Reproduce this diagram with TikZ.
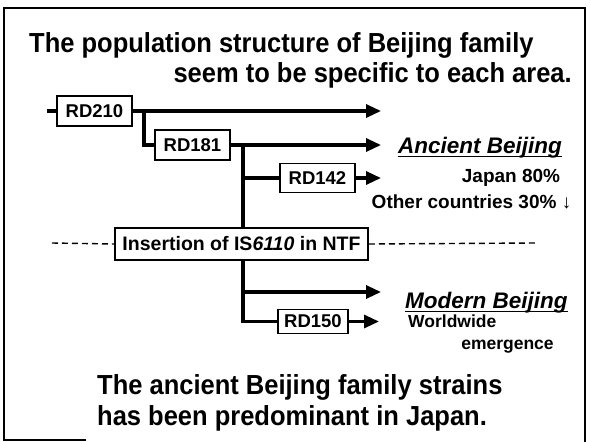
\documentclass[tikz,border=0pt]{standalone}
\usepackage{fontspec}
\setmainfont{Liberation Sans}
\usetikzlibrary{arrows.meta}
\tikzset{
  box/.style={draw, line width=1.8pt, fill=white, inner sep=0pt, minimum width=75pt, minimum height=30pt, font=\fontsize{18.5}{20}\selectfont\bfseries},
  branch/.style={line width=3.2pt},
  arr/.style={line width=3.2pt, -{Triangle[length=15pt,width=13pt]}},
  big/.style={font=\fontsize{25.5}{30}\selectfont\bfseries, inner sep=0pt},
  lbl/.style={font=\fontsize{19}{21}\selectfont\bfseries, inner sep=0pt},
  area/.style={font=\fontsize{22.5}{25}\selectfont\bfseries\itshape, inner sep=0pt},
  uline/.style={line width=1.6pt},
  frame/.style={line width=2pt},
}
\begin{document}
\begin{tikzpicture}[x=1pt,y=-1pt]
\useasboundingbox (0,0) rectangle (590,442);
% frame
\coordinate (f1) at (4,440);
\coordinate (f2) at (4,8);
\coordinate (f3) at (585,8);
\coordinate (f4) at (585,442);
\coordinate (f5) at (86,440);
\draw[frame] (f5) -- (f1) -- (f2) -- (f3) -- (f4);
% title
\node[big, anchor=base west] (t1) at (29,52) {\scalebox{1}[1.08]{The population structure of Beijing family}};
\node[big, anchor=base east] (t2) at (572,82) {\scalebox{1}[1.08]{seem to be specific to each area.}};
% boxes
\node[box] (rd210) at (94.5,111) {RD210};
\node[box] (rd181) at (192.5,145) {RD181};
\node[box, minimum height=29pt] (rd142) at (317.5,178) {RD142};
\node[box, minimum width=70pt, minimum height=24pt] (rd150) at (313,321.5) {RD150};
\coordinate (s0) at (47,111);
\coordinate (a1) at (381,111);
\coordinate (a2) at (381,145);
\coordinate (a3) at (381,178);
\coordinate (a4) at (381,292);
\coordinate (a5) at (379,321.5);
\coordinate (v1) at (144,111);
\coordinate (v1b) at (144,145);
\coordinate (v2) at (243,145);
\coordinate (v2a) at (243,178);
\coordinate (v2b) at (243,292);
\coordinate (v2c) at (243,321.5);
\draw[branch] (s0) -- (rd210.west);
\draw[arr] (rd210.east) -- (a1);
\draw[branch] (v1) -- (v1b) -- (rd181.west);
\draw[arr] (rd181.east) -- (a2);
\draw[branch] (v2) -- (v2c) -- (rd150.west);
\draw[branch] (v2a) -- (rd142.west);
\draw[arr] (rd142.east) -- (a3);
\draw[arr] (v2b) -- (a4);
\draw[arr] (rd150.east) -- (a5);
% insertion
\node[box, minimum width=253pt, minimum height=32pt, font=\fontsize{19.5}{21}\selectfont\bfseries] (is) at (241.5,244) {Insertion of IS\textit{6110} in NTF};
\coordinate (d1) at (52,243);
\coordinate (d2) at (535,243);
\draw[line width=1.4pt, dash pattern=on 6pt off 4pt] (d1) -- (is.west);
\draw[line width=1.4pt, dash pattern=on 6pt off 4pt] (is.east) -- (d2);
% labels
\node[area, anchor=base west] (anc) at (398,153) {Ancient Beijing};
\draw[uline] ([yshift=-3.5pt]anc.base west) -- ([yshift=-3.5pt]anc.base east);
\node[lbl] (jp) at (511,178) {Japan 80\%};
\node[lbl] (oc) at (471.5,202) {Other countries 30\% ↓};
\node[area, anchor=base west] (mod) at (405,308) {Modern Beijing};
\draw[uline] ([yshift=-3.5pt]mod.base west) -- ([yshift=-3.5pt]mod.base east);
\node[lbl, font=\fontsize{17.5}{20}\selectfont\bfseries, anchor=base west] (ww) at (408,327) {Worldwide};
\node[lbl, font=\fontsize{17.5}{20}\selectfont\bfseries] (em) at (507.5,347) {emergence};
% conclusion
\node[big, anchor=base west] (c1) at (97,394) {\scalebox{1}[1.08]{The ancient Beijing family strains}};
\node[big, anchor=base west] (c2) at (97,425) {\scalebox{1}[1.08]{has been predominant in Japan.}};
\end{tikzpicture}
\end{document}
